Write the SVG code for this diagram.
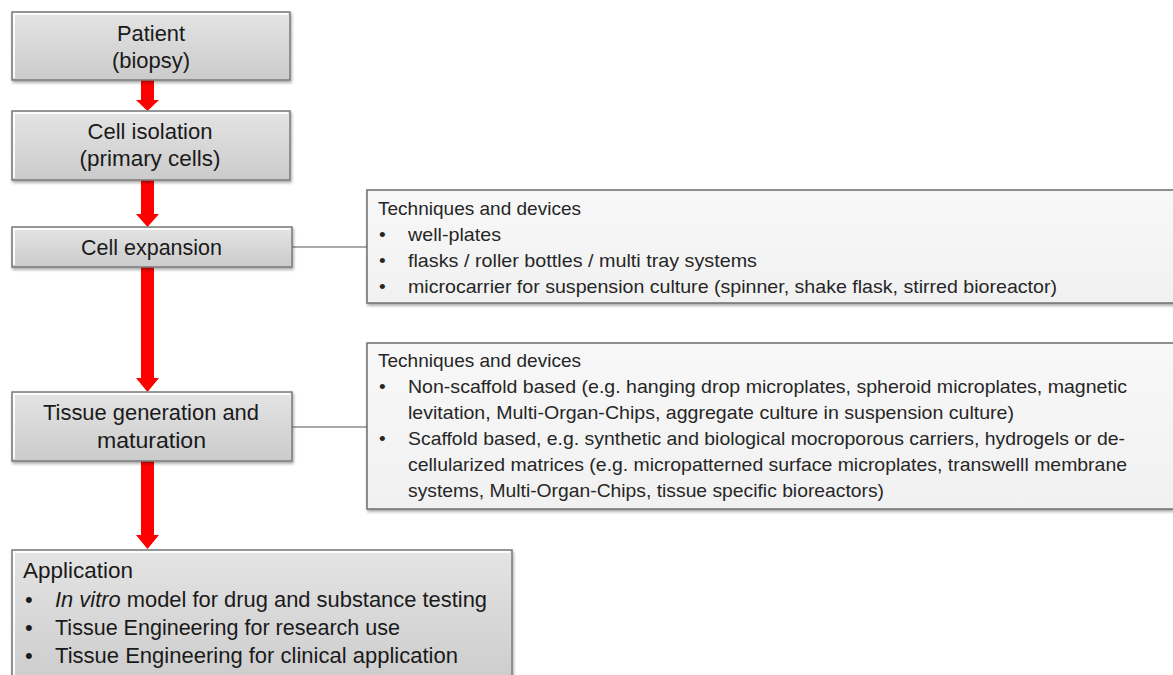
<svg xmlns="http://www.w3.org/2000/svg" width="1173" height="675" viewBox="0 0 1173 675">
<defs>
<linearGradient id="gBox" x1="0" y1="0" x2="0" y2="1">
<stop offset="0" stop-color="#e4e4e4"/>
<stop offset="1" stop-color="#cbcbcb"/>
</linearGradient>
<linearGradient id="gTech" x1="0" y1="0" x2="0" y2="1">
<stop offset="0" stop-color="#f8f8f8"/>
<stop offset="1" stop-color="#f1f1f1"/>
</linearGradient>
<filter id="sh" x="-5%" y="-10%" width="110%" height="130%">
<feDropShadow dx="1" dy="2" stdDeviation="1.5" flood-color="#000" flood-opacity="0.35"/>
</filter>
</defs>
<style>
.box{fill:url(#gBox);stroke:#7a7a7a;stroke-width:1.5;filter:url(#sh)}
.tech{fill:url(#gTech);stroke:#6e6e6e;stroke-width:1.5;filter:url(#sh)}
.hl{fill:none;stroke:#ffffff;stroke-width:2;stroke-opacity:0.9}
.t{font-family:"Liberation Sans",Arial,sans-serif;font-size:22px;fill:#1a1a1a}
.c{text-anchor:middle}
.s{font-family:"Liberation Sans",Arial,sans-serif;font-size:19px;fill:#262626}
.arrow{fill:#ff0000}
.link{stroke:#555;stroke-width:1.2;fill:none}
</style>

<g id="connectors">
<polygon class="arrow" points="141,80 154,80 154,100 159,100 147.5,111 136,100 141,100"/>
<polygon class="arrow" points="141,180 154,180 154,214 159,214 147.5,227 136,214 141,214"/>
<polygon class="arrow" points="141,267 154,267 154,378 159,378 147.5,392 136,378 141,378"/>
<polygon class="arrow" points="141,461 154,461 154,535 159,535 147.5,549 136,535 141,535"/>
<line class="link" x1="292" y1="247" x2="367" y2="247"/>
<line class="link" x1="292" y1="427" x2="367" y2="427"/>
</g>

<g id="patient">
<rect class="box" x="12" y="12" width="278" height="68"/>
<polyline class="hl" points="14,78 14,14 288,14"/>
<text class="t c" x="151" y="41" textLength="68" lengthAdjust="spacingAndGlyphs">Patient</text>
<text class="t c" x="151" y="68" textLength="78" lengthAdjust="spacingAndGlyphs">(biopsy)</text>
</g>

<g id="cell-isolation">
<rect class="box" x="12" y="111" width="278" height="69"/>
<polyline class="hl" points="14,178 14,113 288,113"/>
<text class="t c" x="150" y="139" textLength="125" lengthAdjust="spacingAndGlyphs">Cell isolation</text>
<text class="t c" x="150" y="166" textLength="141" lengthAdjust="spacingAndGlyphs">(primary cells)</text>
</g>

<g id="cell-expansion">
<rect class="box" x="12" y="227" width="280" height="40"/>
<polyline class="hl" points="14,265 14,229 290,229"/>
<text class="t c" x="151.5" y="255" textLength="141" lengthAdjust="spacingAndGlyphs">Cell expansion</text>
</g>

<g id="tissue-generation">
<rect class="box" x="12" y="392" width="280" height="69"/>
<polyline class="hl" points="14,459 14,394 290,394"/>
<text class="t c" x="151" y="420" textLength="216" lengthAdjust="spacingAndGlyphs">Tissue generation and</text>
<text class="t c" x="151.5" y="448" textLength="109" lengthAdjust="spacingAndGlyphs">maturation</text>
</g>

<g id="application">
<rect class="box" x="12" y="550" width="500" height="140"/>
<polyline class="hl" points="14,690 14,552 510,552"/>
<text class="t" x="23" y="578" textLength="110" lengthAdjust="spacingAndGlyphs">Application</text>
<text class="t" x="25" y="607">•</text>
<text class="t" x="55" y="607" textLength="432" lengthAdjust="spacingAndGlyphs"><tspan font-style="italic">In vitro</tspan> model for drug and substance testing</text>
<text class="t" x="25" y="635">•</text>
<text class="t" x="55" y="635" textLength="345" lengthAdjust="spacingAndGlyphs">Tissue Engineering for research use</text>
<text class="t" x="25" y="663">•</text>
<text class="t" x="55" y="663" textLength="403" lengthAdjust="spacingAndGlyphs">Tissue Engineering for clinical application</text>
</g>

<g id="techniques-expansion">
<rect class="tech" x="367" y="190" width="816" height="113"/>
<text class="s" x="378" y="215" textLength="203" lengthAdjust="spacingAndGlyphs">Techniques and devices</text>
<text class="s" x="379" y="241">•</text>
<text class="s" x="408" y="241" textLength="93" lengthAdjust="spacingAndGlyphs">well-plates</text>
<text class="s" x="379" y="267">•</text>
<text class="s" x="408" y="267" textLength="349" lengthAdjust="spacingAndGlyphs">flasks / roller bottles / multi tray systems</text>
<text class="s" x="379" y="293">•</text>
<text class="s" x="408" y="293" textLength="649" lengthAdjust="spacingAndGlyphs">microcarrier for suspension culture (spinner, shake flask, stirred bioreactor)</text>
</g>

<g id="techniques-tissue">
<rect class="tech" x="367" y="343" width="816" height="166"/>
<text class="s" x="378" y="367" textLength="203" lengthAdjust="spacingAndGlyphs">Techniques and devices</text>
<text class="s" x="379" y="393">•</text>
<text class="s" x="408" y="393" textLength="719" lengthAdjust="spacingAndGlyphs">Non-scaffold based (e.g. hanging drop microplates, spheroid microplates, magnetic</text>
<text class="s" x="408" y="419" textLength="606" lengthAdjust="spacingAndGlyphs">levitation, Multi-Organ-Chips, aggregate culture in suspension culture)</text>
<text class="s" x="379" y="445">•</text>
<text class="s" x="408" y="445" textLength="717" lengthAdjust="spacingAndGlyphs">Scaffold based, e.g. synthetic and biological mocroporous carriers, hydrogels or de-</text>
<text class="s" x="408" y="471" textLength="719" lengthAdjust="spacingAndGlyphs">cellularized matrices (e.g. micropatterned surface microplates, transwelll membrane</text>
<text class="s" x="408" y="497" textLength="476" lengthAdjust="spacingAndGlyphs">systems, Multi-Organ-Chips, tissue specific bioreactors)</text>
</g>
</svg>
